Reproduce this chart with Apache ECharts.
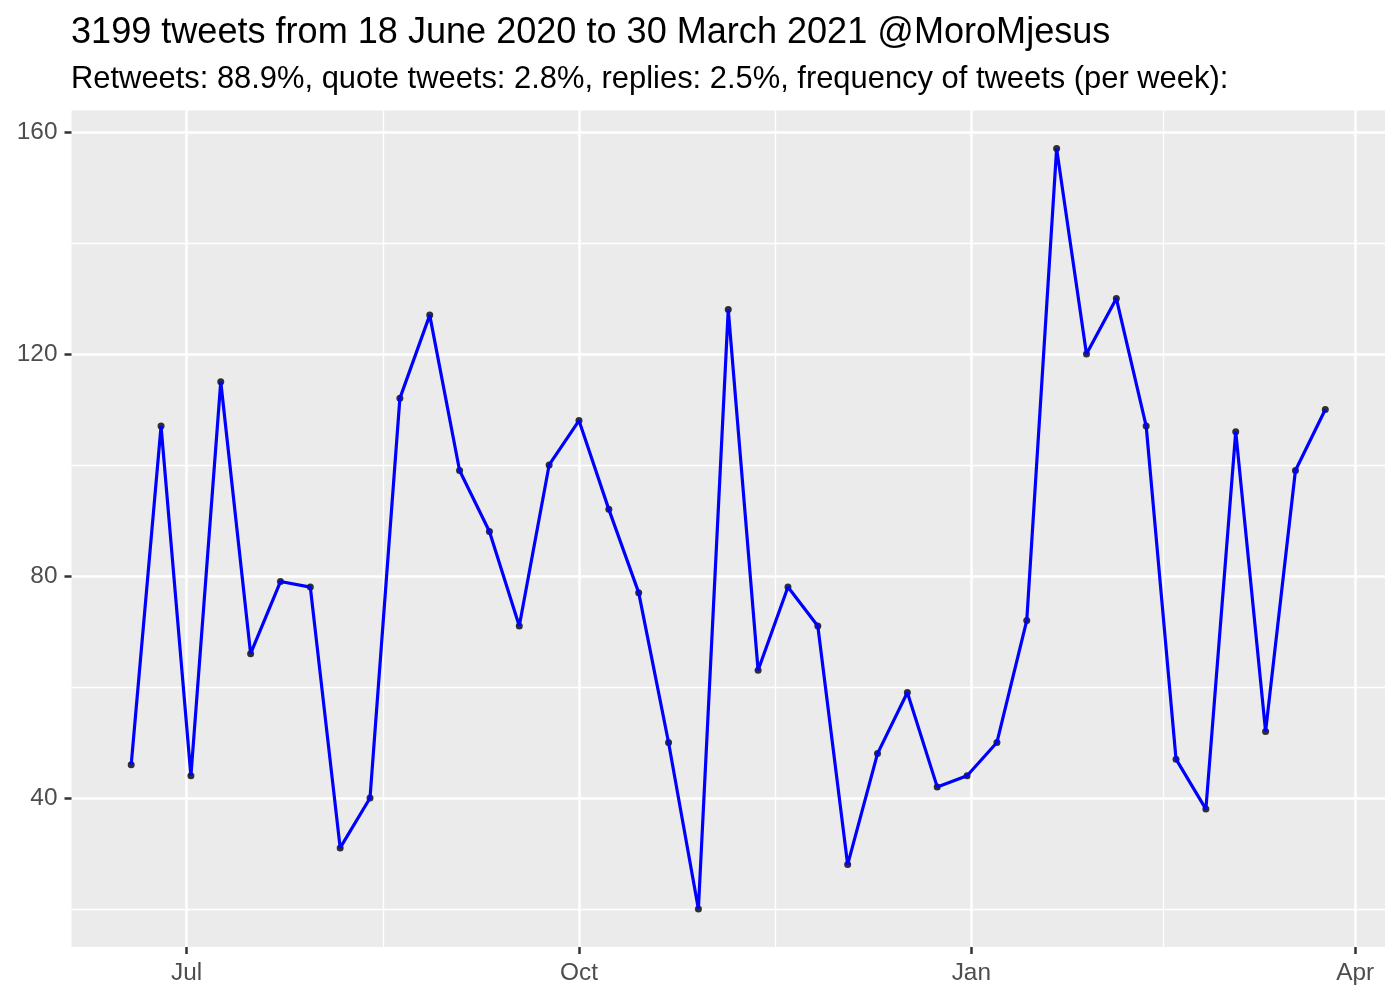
<!DOCTYPE html>
<html>
<head>
<meta charset="utf-8">
<script src="https://cdn.jsdelivr.net/npm/echarts@6/dist/echarts.min.js"></script>
<style>
  html, body { margin: 0; padding: 0; background: #ffffff; }
  #chart { width: 1400px; height: 1000px; }
</style>
</head>
<body>
<div id="chart"></div>
<script>
// ---- data ----
const weekDates = [
  '2020-06-18','2020-06-25','2020-07-02','2020-07-09','2020-07-16','2020-07-23','2020-07-30',
  '2020-08-06','2020-08-13','2020-08-20','2020-08-27','2020-09-03','2020-09-10','2020-09-17',
  '2020-09-24','2020-10-01','2020-10-08','2020-10-15','2020-10-22','2020-10-29','2020-11-05',
  '2020-11-12','2020-11-19','2020-11-26','2020-12-03','2020-12-10','2020-12-17','2020-12-24',
  '2020-12-31','2021-01-07','2021-01-14','2021-01-21','2021-01-28','2021-02-04','2021-02-11',
  '2021-02-18','2021-02-25','2021-03-04','2021-03-11','2021-03-18','2021-03-25'
];
const tweetsPerWeek = [
  46, 107, 44, 115, 66, 79, 78, 31, 40, 112, 127, 99, 88, 71, 100, 108, 92, 77, 50, 20, 128,
  63, 78, 71, 28, 48, 59, 42, 44, 50, 72, 157, 120, 130, 107, 47, 38, 106, 52, 99, 110
];
const xTickDates = ['2020-07-01', '2020-10-01', '2021-01-01', '2021-04-01'];
const xTickLabels = ['Jul', 'Oct', 'Jan', 'Apr'];
const xMinorDates = ['2020-08-16', '2020-11-16', '2021-02-15'];
const yTicks = [40, 80, 120, 160];
const yMinor = [20, 60, 100, 140];
const titleText = '3199 tweets from 18 June 2020 to 30 March 2021 @MoroMjesus';
const subtitleText = 'Retweets: 88.9%, quote tweets: 2.8%, replies: 2.5%, frequency of tweets (per week):';

// ---- helpers ----
function ts(s) {
  const p = s.split('-').map(Number);
  return Date.UTC(p[0], p[1] - 1, p[2]);
}
const xs = weekDates.map(ts);
const seriesData = xs.map((t, i) => [t, tweetsPerWeek[i]]);
const xSpan = xs[xs.length - 1] - xs[0];
const xMin = xs[0] - 0.05 * xSpan;
const xMax = xs[xs.length - 1] + 0.05 * xSpan;
const yLo = Math.min.apply(null, tweetsPerWeek), yHi = Math.max.apply(null, tweetsPerWeek);
const yMin = yLo - 0.05 * (yHi - yLo);
const yMax = yHi + 0.05 * (yHi - yLo);
const xTickVals = xTickDates.map(ts);
function xLabel(v) {
  let best = '', bd = Infinity;
  xTickVals.forEach((t, i) => { const d = Math.abs(t - v); if (d < bd) { bd = d; best = xTickLabels[i]; } });
  return bd < 86400000 ? best : '';
}

const FONT = '"Liberation Sans", Arial, Helvetica, sans-serif';

const chart = echarts.init(document.getElementById('chart'), null, { renderer: 'canvas' });
chart.setOption({
  animation: false,
  backgroundColor: '#ffffff',
  title: [
    { text: titleText, left: 71, top: 15, padding: 0,
      textStyle: { fontFamily: FONT, fontSize: 36.1, fontWeight: 'normal', color: '#000000' } },
    { text: subtitleText, left: 71, top: 64, padding: 0,
      textStyle: { fontFamily: FONT, fontSize: 30.9, fontWeight: 'normal', color: '#000000' } }
  ],
  grid: {
    left: 71.5, right: 15, top: 110.6, bottom: 53,
    show: true, backgroundColor: '#EBEBEB', borderWidth: 0, containLabel: false
  },
  xAxis: {
    type: 'value',
    min: xMin, max: xMax,
    axisLine: { show: false },
    axisTick: { show: true, customValues: xTickVals, length: 7, lineStyle: { color: '#333333', width: 2.5 } },
    axisLabel: {
      customValues: xTickVals,
      formatter: v => xLabel(v),
      fontFamily: FONT, fontSize: 24.4, color: '#4D4D4D', margin: 14,
      hideOverlap: false, showMinLabel: true, showMaxLabel: true
    },
    splitLine: { show: true, lineStyle: { color: '#ffffff', width: 2.5 } }
  },
  yAxis: {
    type: 'value',
    min: yMin, max: yMax,
    axisLine: { show: false },
    axisTick: { show: true, customValues: yTicks, length: 7, lineStyle: { color: '#333333', width: 2.5 } },
    axisLabel: {
      customValues: yTicks,
      fontFamily: FONT, fontSize: 24.4, color: '#4D4D4D', margin: 14
    },
    splitLine: { show: true, lineStyle: { color: '#ffffff', width: 2.5 } }
  },
  series: [
    {
      type: 'line', name: 'minor', data: [], z: 1, silent: true,
      markLine: {
        z: 1, zlevel: 0,
        silent: true, symbol: ['none', 'none'], animation: false,
        label: { show: false },
        lineStyle: { color: '#ffffff', width: 1.3, type: 'solid' },
        emphasis: { disabled: true },
        data: xMinorDates.map(d => ({ xAxis: ts(d) })).concat(yMinor.map(v => ({ yAxis: v })))
      }
    },
    {
      type: 'scatter', name: 'points', data: seriesData, z: 3,
      symbol: 'circle', symbolSize: 7,
      itemStyle: { color: '#000000' }, silent: true
    },
    {
      type: 'line', name: 'tweets', data: seriesData, z: 4,
      showSymbol: false, symbol: 'none',
      lineStyle: { color: '#0000FF', width: 3.2 }, silent: true
    }
  ]
});
</script>
</body>
</html>
